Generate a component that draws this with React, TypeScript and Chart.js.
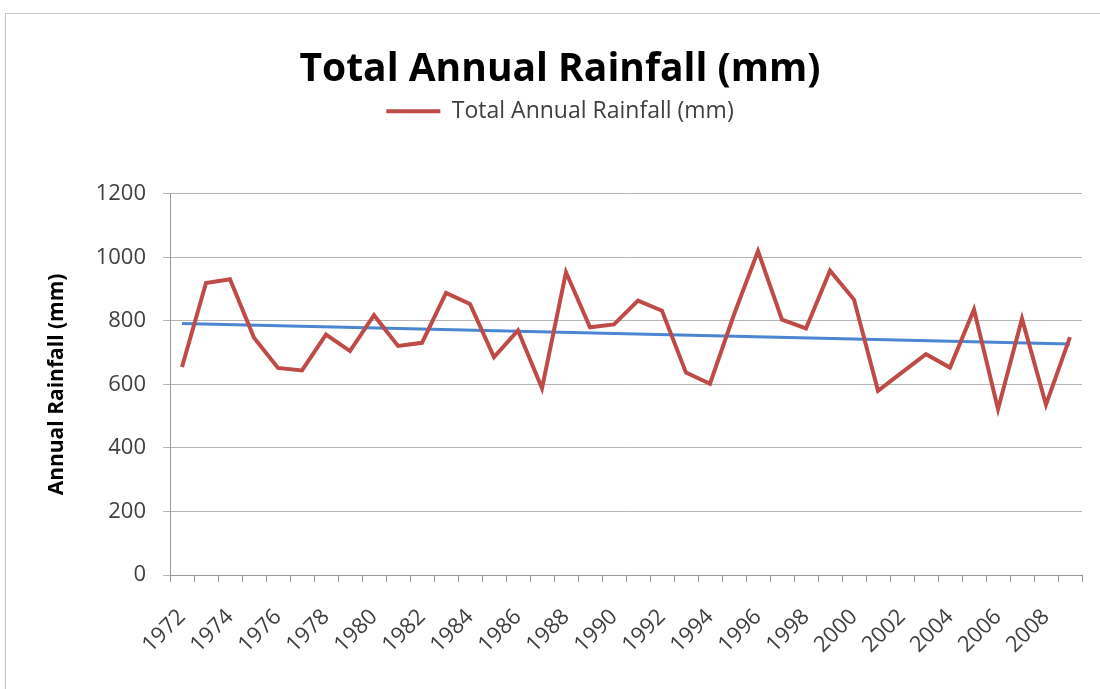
import React, { useEffect, useRef } from "react";
import { Chart, registerables } from "chart.js";

Chart.register(...registerables);

const years = [
  "1972", "1973", "1974", "1975", "1976", "1977", "1978", "1979", "1980", "1981",
  "1982", "1983", "1984", "1985", "1986", "1987", "1988", "1989", "1990", "1991",
  "1992", "1993", "1994", "1995", "1996", "1997", "1998", "1999", "2000", "2001",
  "2002", "2003", "2004", "2005", "2006", "2007", "2008", "2009",
];

const rainfall = [
  655, 919, 931, 747, 652, 644, 757, 705, 818, 721,
  731, 888, 853, 686, 770, 588, 953, 780, 789, 864,
  832, 637, 602, 820, 1020, 804, 776, 958, 867, 580,
  638, 695, 653, 836, 522, 807, 536, 749,
];

// Linear trend line: value at the first and the last year
const trendEnds = [792, 727];

const yTicks = [0, 200, 400, 600, 800, 1000, 1200];

const FONT = "'Open Sans', Lato, sans-serif";

export default function App() {
  const ref = useRef<HTMLCanvasElement | null>(null);

  useEffect(() => {
    if (!ref.current) return;
    const trendData = years.map((_, i) =>
      i === 0 ? trendEnds[0] : i === years.length - 1 ? trendEnds[1] : null
    );
    const legendGap = {
      id: "legendGap",
      beforeInit(chart: any) {
        const orig = chart.legend.fit;
        chart.legend.fit = function () {
          orig.call(this);
          this.height += 61;
        };
      },
    };
    const chart = new Chart(ref.current, {
      type: "line",
      data: {
        labels: years,
        datasets: [
          {
            label: "Total Annual Rainfall (mm)",
            data: rainfall,
            borderColor: "#BE4B48",
            backgroundColor: "#BE4B48",
            borderWidth: 4,
            pointRadius: 0,
            tension: 0,
            borderJoinStyle: "miter",
          },
          {
            label: "trend",
            data: trendData,
            borderColor: "#4A86D2",
            backgroundColor: "#4A86D2",
            borderWidth: 3,
            pointRadius: 0,
            spanGaps: true,
          },
        ],
      },
      plugins: [legendGap],
      options: {
        animation: false,
        responsive: false,
        maintainAspectRatio: false,
        layout: { padding: { left: 38, right: 18, top: 0, bottom: 0 } },
        plugins: {
          tooltip: { enabled: false },
          title: {
            display: true,
            text: "Total Annual Rainfall (mm)",
            color: "#000000",
            font: { family: FONT, size: 39, weight: "bold" },
            padding: { top: 46, bottom: 0 },
          },
          legend: {
            display: true,
            labels: {
              filter: (item: any) => item.text !== "trend",
              usePointStyle: true,
              pointStyle: "line",
              pointStyleWidth: 54,
              color: "#404040",
              font: { family: FONT, size: 23 },
              padding: 7,
            },
          },
        },
        scales: {
          x: {
            offset: true,
            grid: {
              display: true,
              offset: true,
              drawOnChartArea: false,
              drawTicks: true,
              tickLength: 7,
              color: "#9a9a9a",
            },
            border: { display: true, color: "#9a9a9a", width: 1 },
            ticks: {
              autoSkip: false,
              maxRotation: 45,
              minRotation: 45,
              color: "#404040",
              font: { family: FONT, size: 22 },
              padding: 22,
              callback: (_v: any, i: number) => (i % 2 === 0 ? years[i] : ""),
            },
            afterFit: (scale: any) => {
              scale.height = 114;
              scale.paddingRight = 0;
            },
          },
          y: {
            min: 0,
            max: 1200,
            afterBuildTicks: (scale: any) => {
              scale.ticks = yTicks.map((v) => ({ value: v }));
            },
            grid: {
              color: "#b5b5b5",
              tickLength: 7,
              lineWidth: 1,
            },
            border: { display: true, color: "#9a9a9a", width: 1 },
            ticks: {
              color: "#404040",
              font: { family: FONT, size: 22 },
              padding: 17,
              callback: (v: any) => String(v),
            },
            title: {
              display: true,
              text: "Annual Rainfall (mm)",
              color: "#000000",
              font: { family: FONT, size: 21, weight: "bold" },
              padding: { top: 6, bottom: 0 },
            },
            afterFit: (scale: any) => {
              scale.width = 132;
            },
          },
        },
      },
    });
    return () => chart.destroy();
  }, []);

  return (
    <div
      style={{
        position: "fixed",
        left: 0,
        top: 0,
        width: 1100,
        height: 689,
        background: "#ffffff",
        overflow: "hidden",
      }}
    >
      <div
        style={{
          position: "absolute",
          left: 5,
          top: 13,
          width: 1200,
          height: 800,
          border: "1px solid #c4c4c4",
          boxSizing: "border-box",
        }}
      />
      <canvas
        ref={ref}
        width={1100}
        height={689}
        style={{ position: "absolute", left: 0, top: 0, width: 1100, height: 689 }}
      />
    </div>
  );
}
